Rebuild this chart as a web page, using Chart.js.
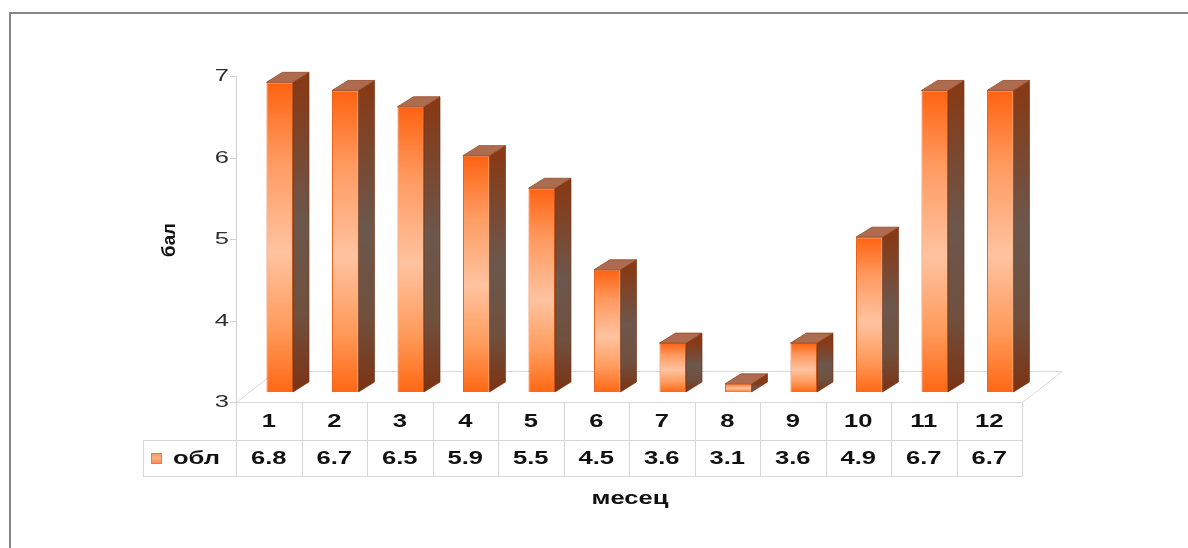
<!DOCTYPE html>
<html>
<head>
<meta charset="utf-8">
<script src="https://cdn.jsdelivr.net/npm/chart.js@4/dist/chart.umd.min.js"></script>
<style>
  html, body { margin: 0; padding: 0; background: #ffffff; }
  #wrap { width: 1188px; height: 548px; position: relative; }
</style>
</head>
<body>
<div id="wrap"><canvas id="c"></canvas></div>
<script>
// Monthly values of the "обл" series, on the 3..7 scale
const months = ['1', '2', '3', '4', '5', '6', '7', '8', '9', '10', '11', '12'];
const oblValues = [6.8, 6.7, 6.5, 5.9, 5.5, 4.5, 3.6, 3.1, 3.6, 4.9, 6.7, 6.7];
const yTicks = [3, 4, 5, 6, 7];
const seriesName = 'обл';
const yTitle = 'бал';
const xTitle = 'месец';

// Depth of each bar and of the floor, in pixels
const BAR_DX = 16, BAR_DY = -10;
const FRONT_SHIFT_X = 11, FRONT_SHIFT_Y = 10;   // bars sit behind the front plane
const FLOOR_DX = 40, FLOOR_DY = -31;
const FONT = '"Liberation Sans", Arial, sans-serif';
const TEXT_STRETCH = 1.42;   // wide lettering

function frontGradient(ctx, top, bottom) {
  const g = ctx.createLinearGradient(0, top, 0, bottom);
  g.addColorStop(0.0, '#ff6210');
  g.addColorStop(0.25, '#ff9a60');
  g.addColorStop(0.55, '#ffc3a0');
  g.addColorStop(0.8, '#ff9a5a');
  g.addColorStop(1.0, '#ff6814');
  return g;
}

function sideGradient(ctx, top, bottom) {
  const g = ctx.createLinearGradient(0, top, 0, bottom);
  g.addColorStop(0.0, '#873a16');
  g.addColorStop(0.45, '#6c574c');
  g.addColorStop(0.75, '#70503e');
  g.addColorStop(1.0, '#7c3212');
  return g;
}

// text drawn with a horizontal stretch around its anchor point
function wideText(ctx, text, x, y, sx) {
  ctx.save();
  ctx.translate(x, y);
  ctx.scale(sx, 1);
  ctx.fillText(text, 0, 0);
  ctx.restore();
}

const frame3d = {
  id: 'frame3d',
  beforeDraw(chart) {
    const ctx = chart.ctx;
    const area = chart.chartArea;
    const xs = chart.scales.x, ys = chart.scales.y;
    ctx.save();
    // outer frame
    ctx.strokeStyle = '#858585';
    ctx.lineWidth = 2;
    ctx.beginPath();
    ctx.moveTo(10, 548);
    ctx.lineTo(10, 13);
    ctx.lineTo(1188, 13);
    ctx.stroke();

    // floor of the plot
    const floorY = Math.round(ys.getPixelForValue(yTicks[0]) + FRONT_SHIFT_Y);
    const fl = Math.round(area.left - FRONT_SHIFT_X), fr = Math.round(area.right - FRONT_SHIFT_X);
    ctx.strokeStyle = '#d9d9d9';
    ctx.lineWidth = 1;
    ctx.beginPath();
    ctx.moveTo(fr + 0.5, floorY + 0.5);
    ctx.lineTo(fl + 0.5, floorY + 0.5);
    ctx.lineTo(fl + FLOOR_DX, floorY + FLOOR_DY + 0.5);
    ctx.lineTo(fr + FLOOR_DX, floorY + FLOOR_DY + 0.5);
    ctx.lineTo(fr + 0.5, floorY + 0.5);
    ctx.stroke();

    // value axis on the front plane
    ctx.strokeStyle = '#cfcfcf';
    ctx.beginPath();
    ctx.moveTo(fl + 0.5, ys.getPixelForValue(yTicks[yTicks.length - 1]) + FRONT_SHIFT_Y);
    ctx.lineTo(fl + 0.5, floorY);
    ctx.stroke();
    ctx.fillStyle = '#2e2e2e';
    ctx.font = '17px ' + FONT;
    ctx.textAlign = 'right';
    ctx.textBaseline = 'middle';
    yTicks.forEach(v => {
      const py = Math.round(ys.getPixelForValue(v) + FRONT_SHIFT_Y) + 0.5;
      ctx.beginPath();
      ctx.moveTo(fl - 6, py);
      ctx.lineTo(fl, py);
      ctx.stroke();
      wideText(ctx, String(v), fl - 7, py, 1.5);
    });

    // axis titles
    ctx.fillStyle = '#111111';
    ctx.font = 'bold 17px ' + FONT;
    ctx.save();
    ctx.translate(170, 240);
    ctx.rotate(-Math.PI / 2);
    ctx.scale(1.1, 1.1);
    ctx.textAlign = 'center';
    ctx.textBaseline = 'middle';
    ctx.fillText(yTitle, 0, 0);
    ctx.restore();

    ctx.font = 'bold 18px ' + FONT;
    ctx.textAlign = 'center';
    ctx.textBaseline = 'middle';
    wideText(ctx, xTitle, (fl + fr) / 2 + 1, 499, TEXT_STRETCH);

    // data table below the floor
    const colW = (fr - fl) / months.length;
    const row1Top = floorY, row1Bot = floorY + 38, row2Bot = floorY + 74;
    const legLeft = fl - 93;
    ctx.strokeStyle = '#d6d6d6';
    ctx.beginPath();
    ctx.moveTo(legLeft, row1Bot + 0.5); ctx.lineTo(fr, row1Bot + 0.5);
    ctx.moveTo(legLeft, row2Bot + 0.5); ctx.lineTo(fr, row2Bot + 0.5);
    ctx.moveTo(legLeft + 0.5, row1Bot); ctx.lineTo(legLeft + 0.5, row2Bot);
    for (let i = 0; i <= months.length; i++) {
      const lx = Math.round(fl + i * colW) + 0.5;
      ctx.moveTo(lx, row1Top); ctx.lineTo(lx, row2Bot);
    }
    ctx.stroke();

    ctx.fillStyle = '#111111';
    ctx.font = 'bold 18px ' + FONT;
    ctx.textAlign = 'center';
    ctx.textBaseline = 'middle';
    months.forEach((m, i) => {
      const cx = xs.getPixelForValue(i) - FRONT_SHIFT_X;
      wideText(ctx, m, cx, (row1Top + row1Bot) / 2 + 1, TEXT_STRETCH);
      wideText(ctx, oblValues[i].toFixed(1), cx, (row1Bot + row2Bot) / 2 + 1, TEXT_STRETCH);
    });

    // legend key in the table
    const ky = (row1Bot + row2Bot) / 2;
    const kg = ctx.createLinearGradient(0, ky - 6, 0, ky + 6);
    kg.addColorStop(0, '#ff8a50');
    kg.addColorStop(0.5, '#ffb38c');
    kg.addColorStop(1, '#ff8040');
    ctx.fillStyle = kg;
    ctx.fillRect(legLeft + 8, ky - 5, 11, 11);
    ctx.strokeStyle = '#f07a45';
    ctx.strokeRect(legLeft + 8.5, ky - 4.5, 10, 10);
    ctx.fillStyle = '#111111';
    ctx.textAlign = 'left';
    wideText(ctx, seriesName, legLeft + 30, ky + 1, TEXT_STRETCH);
    ctx.restore();
  },
  afterDatasetsDraw(chart) {
    const ctx = chart.ctx;
    const ys = chart.scales.y;
    const meta = chart.getDatasetMeta(0);
    const floor = ys.getPixelForValue(yTicks[0]);
    ctx.save();
    meta.data.forEach(bar => {
      const { x, y, width } = bar.getProps(['x', 'y', 'width'], true);
      const base = floor;
      const l = x - width / 2, r = x + width / 2;
      // right side face
      ctx.fillStyle = sideGradient(ctx, y, base);
      ctx.beginPath();
      ctx.moveTo(r, y);
      ctx.lineTo(r + BAR_DX, y + BAR_DY);
      ctx.lineTo(r + BAR_DX, base + BAR_DY);
      ctx.lineTo(r, base);
      ctx.closePath();
      ctx.fill();
      ctx.strokeStyle = 'rgba(110,45,15,0.6)';
      ctx.lineWidth = 1;
      ctx.stroke();
      // top face
      ctx.fillStyle = '#ad6c50';
      ctx.beginPath();
      ctx.moveTo(l, y);
      ctx.lineTo(l + BAR_DX, y + BAR_DY);
      ctx.lineTo(r + BAR_DX, y + BAR_DY);
      ctx.lineTo(r, y);
      ctx.closePath();
      ctx.fill();
      ctx.strokeStyle = 'rgba(150,70,35,0.8)';
      ctx.stroke();
    });
    ctx.restore();
  }
};

new Chart(document.getElementById('c'), {
  type: 'bar',
  data: {
    labels: months,
    datasets: [{
      label: seriesName,
      data: oblValues,
      base: yTicks[0],
      backgroundColor(context) {
        const chart = context.chart;
        const ys = chart.scales.y;
        const i = context.dataIndex;
        if (!ys || !chart.chartArea || i === undefined) return '#ff8a50';
        const top = ys.getPixelForValue(oblValues[i]);
        const bottom = ys.getPixelForValue(yTicks[0]);
        if (!isFinite(top) || !isFinite(bottom) || top === bottom) return '#ff8a50';
        return frontGradient(chart.ctx, top, bottom);
      },
      borderColor: '#e8641e',
      borderWidth: 1,
      categoryPercentage: 1.0,
      barPercentage: 0.405
    }]
  },
  options: {
    responsive: true,
    maintainAspectRatio: false,
    animation: false,
    layout: { padding: { left: 247, right: 155, top: 66, bottom: 156 } },
    plugins: { legend: { display: false }, tooltip: { enabled: false } },
    scales: {
      x: { display: false },
      y: { display: false, min: 3, max: 7 }
    }
  },
  plugins: [frame3d]
});
</script>
</body>
</html>
